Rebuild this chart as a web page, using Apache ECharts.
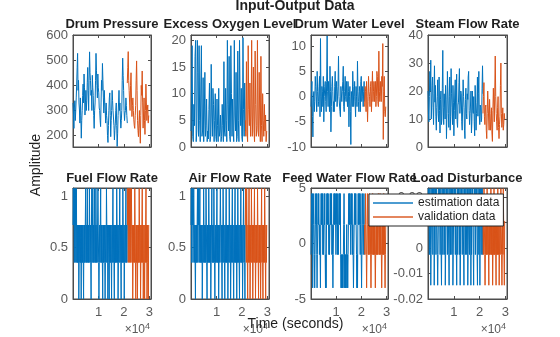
<!DOCTYPE html>
<html><head><meta charset="utf-8">
<script src="https://cdn.jsdelivr.net/npm/echarts@6/dist/echarts.min.js"></script>
<style>html,body{margin:0;padding:0;background:#fff}#c{width:560px;height:337px}</style>
</head><body><div id="c"></div>
<script>
// ---------------- data ----------------
const mainTitle = 'Input-Output Data';
const panelTitles = ['Drum Pressure','Excess Oxygen Level','Drum Water Level','Steam Flow Rate',
                     'Fuel Flow Rate','Air Flow Rate','Feed Water Flow Rate','Load Disturbance'];
const legendNames = ['estimation data','validation data'];
const xLabel = 'Time (seconds)';
const yLabel = 'Amplitude';
const xTicks = [10000, 20000, 30000];
const xMin = 0, xMax = 30600;
const estStart = 0, estEnd = 21300, valEnd = 29700;

const drumPressureEst = [330,290,229,310,339,260,300,350,405,470,527,380,420,330,302,250,350,280,190,260,
  300,360,405,330,445,390,282,330,380,300,340,410,471,380,300,420,533,450,420,360,
  380,300,440,390,360,280,229,300,330,420,527,460,400,350,445,390,370,310,300,260,
  236,330,420,380,487,420,350,290,380,330,300,250,330,280,260,200,173,240,300,350,
  370,280,196,260,300,380,340,300,300,240,183,220,250,300,330,240,157,210,280,330,
  380,300,330,270,230,260,300,420,508,440,380,300,260,290,300,350,320,280,250];
const drumPressureVal = [409,470,534,420,380,330,300,400,450,350,276,320,350,300,263,240,229,280,320,420,
  497,380,260,220,196,250,300,230,170,280,400,360,457,330,230,290,350,260,205,300,
  405,330,260,300,322,250,280];

const oxygenEst = [3,12,19,2,1,8,4,17,20,1,3,20,14,2,19,5,1,12,19,2,3,13,1,6,14,2,4,9,1,3,
  1.5,7,12,1,2,15.5,6,2,11,8,1,5,10,2,1,9,4,1,11,2,3,6,1,2,8,4,1,16,3,2,
  11,5,1,20,8,3,17,2,1,19,10,2,9,3,1,20,6,3,14,1,2,18,5,1,20,9,4,11,2,1,
  20.5,7,2,12,3];
const oxygenVal = [5,2,16,3,1,19,7,4,12,2,6,20,2,6,15,3,1,18,8,2,4,20,3,2,14,6,1,17,4,1,
  10,5,2,8,3,6,1,3];

const waterLevelEst = [-2,1,3,-4,-8,0,1,-3,-1,4,2,0,-3,5,1,-2,-1,2,4,-4,11.5,0,-3,2,1,-2,4,-5,0,2,
  3,-1,-3,3,12,1,-2,3,0,-3,6,1,-7,-2,2,4,1,-3,-1,-3,2,5,-1,1,3,-2,-2,2,8,0,
  0,-3,-4,2,2,-1,1,3,6,-2,-3,1,4,0,-1,3,0,-2,3,1,-6,0,2,-3,-9.5,1,1,-2,5,2,
  -2,0,3,-1,-4,2,0,-2,7,1,-1,-3,2,1,-3,3,4,-1,0,2,-2,1,3,-1];
const waterLevelVal = [-2,2,1,-3,3,0,-5,-1,4,1,0,-2,2,3,-3,1,5,-1,1,3,-1,2,3,-2,0,5,4,-1,-2,9,
  1,-1,3,0,-1,4,2,10.5,-8.5,1,4,-3,-4,-2];

const steamEst = [20,12,9,18,27,20,31,10,15,22,25,14,8,19,29,16,22,11,6,14,18,24,12,9,25,13,5,17,20,8,
  10,21,34.5,14,8,19,15,10,22,17,3,12,27,20,12,7,18,25,6,11,28,19,14,8,22,16,4,13,20,24,
  10,16,26,9,7,15,16,23,28,12,12,20,19,9,6,15,24,18,14,6,3,17,21,12,10,19,17,25,27,13,
  8,12,15,20,5,9,20,13,12,18,9,4,22,15,6,12,16,25,11,19,27,11,8,15,14,9,10,21,29,19];
const steamVal = [12,18,23,11,8,14,15,6,3,12,20,15,10,6,17,12,6,9,14,5,2,13,21,15,9,20,32.5,18,12,9,
  6,14,18,7,3,8,11,22,30,12,7,10,14,6,8,12,10];

const fuelLevels = [0, 0.355, 0.72, 1.075];
const fuelEstCodes = [2,3,2,3,1,3,2,3,1,2, 3,1,2,1,2,1,2,0,1,2, 1,2,1,2,0,2,1,2,1,2, 1,0,2,1,2,1,2,3,1,2,
  1,2,3,1,2,1,2,1,3,2, 1,2,1,0,2,3,1,2,3,1, 2,1,2,3,1,2,1,3,2,1, 2,1,2,3,2,1,0,1,2,1,
  2,3,1,2,1,2,1,0,2,1, 2,1,2,1,0,1,2,1,3,2, 1,2,0,1,2,1,0,2,1,2, 1,2,1,0,2,1,2,3,1,2,
  1,0,2,1,2,1,2,1,3,2, 1,2,0,1,2,1,2,3,1,2, 1,0,2,1,2,1,3,2,1,2, 0,1,2,1,2,3,1,2,1,2];
const fuelValCodes = [3,2,3,1,3,2,3,1,2,3, 1,2,3,2,1,2,0,1,2,1, 2,1,3,2,1,0,2,1,2,1, 0,2,1,2,1,3,2,1,2,0,
  1,2,1,2,3,1,2,0,1,2, 1,0,2,1,2,3,1,2,0,1, 2,1,0,2];

const airLevels = [0, 0.355, 0.72, 1.075];
const airEstCodes = [2,3,1,3,2,3,1,2,3,2, 1,2,1,0,2,1,2,1,2,3, 1,3,2,3,1,2,3,1,2,1, 2,1,2,0,1,2,1,3,2,1,
  2,1,2,1,3,2,1,0,2,1, 2,1,3,2,1,2,1,2,0,1, 2,3,1,2,1,2,1,3,2,1, 0,2,1,2,1,2,3,1,2,1,
  2,0,1,2,1,2,3,2,1,2, 1,0,2,1,3,2,1,2,1,0, 2,1,2,3,1,2,1,2,0,1, 2,1,3,2,1,2,0,1,2,1,
  2,3,1,2,1,0,2,1,2,3, 1,2,1,2,0,2,1,3,2,1, 2,1,0,2,1,2,3,1,2,1, 2,0,1,2,3,1,2,1,0,2];
const airValCodes = [2,3,2,1,3,2,1,0,2,1, 2,3,1,2,0,1,2,1,3,2, 1,2,0,1,2,1,2,3,1,2, 0,1,2,1,2,1,3,2,1,0,
  2,1,2,1,2,0,1,2,3,1, 2,1,0,2,1,2,1,3,2,1, 0,2,1,2];

const feedLevels = [-4.0, -1.0, 1.7, 4.5];
const feedEstCodes = [1,2,3,2,3,0,1,2,3,2, 1,0,1,2,3,2,3,1,0,1, 2,3,2,3,2,1,2,1,0,2, 3,2,3,2,3,1,2,1,2,3,
  2,3,1,0,1,0,2,3,2,3, 2,3,2,1,2,1,2,3,2,3, 2,3,1,2,1,0,1,2,3,2, 3,2,3,2,1,2,3,2,3,1,
  2,1,2,3,2,3,2,3,1,0, 1,0,1,0,1,0,1,2,3,2, 0,1,0,1,0,1,2,0,1,0, 1,2,3,2,3,2,3,2,1,2,
  3,2,3,1,2,1,0,1,2,3, 2,3,2,3,2,1,0,1,0,2, 3,2,3,2,3,2,1,2,3,1, 0,1,2,3,2,1,2,3,2,1];
const feedValCodes = [2,1,2,3,2,1,0,1,2,3, 2,1,2,1,3,2,1,2,1,0, 1,2,1,2,3,1,2,1,2,1, 2,1,0,1,2,1,2,1,2,1,
  2,3,2,1,2,1,3,2,1,2, 1,0,1,2,1,2,1,3,1,2, 1,0,1,2];

const loadLevels = [-0.0146, -0.0026, 0.0106, 0.0232];
const loadEstCodes = [2,3,2,3,1,2,3,2,0,1, 2,3,2,3,1,3,2,3,0,2, 3,2,3,1,2,3,2,1,0,1, 2,3,2,3,2,1,2,3,1,0,
  2,3,2,1,3,2,3,1,2,3, 0,1,2,3,2,3,1,2,3,2, 1,0,2,3,2,1,3,2,3,1, 2,3,0,1,2,3,2,3,2,1,
  3,2,1,0,2,3,1,2,3,2, 3,1,2,0,1,3,2,3,2,1, 2,3,2,1,0,3,2,3,1,2, 3,2,1,2,3,0,1,2,3,2,
  1,3,2,3,0,2,1,3,2,3, 2,1,0,2,3,2,3,1,2,3, 2,3,1,0,2,3,2,1,2,3, 0,2,3,2,1,3,2,3,1,2];
const loadValCodes = [2,1,2,3,2,1,0,1,2,1, 2,1,3,2,1,2,1,0,2,1, 2,1,2,3,1,2,1,2,0,1, 2,1,3,1,2,1,2,1,0,2,
  1,2,1,3,2,1,2,0,1,2, 1,2,3,2,1,0,1,2,1,3, 2,1,0,2];

const yRanges = [[155,600],[0,21],[-10,12.2],[0,40],[0,1.08],[0,1.08],[-5,5],[-0.02,0.0235]];
const yTicks = [[200,300,400,500,600],[0,5,10,15,20],[-10,-5,0,5,10],[0,10,20,30,40],
                [0,0.5,1],[0,0.5,1],[-5,0,5],[-0.02,-0.01,0,0.01,0.02]];

// ---------------- build ----------------
const blue = '#0072BD', orange = '#D95319';
const axisCol = '#4d4d4d', labelCol = '#5a5a5a', textCol = '#1f1f1f';
const FONT = 'Liberation Sans, Arial, sans-serif';

function toPairs(vals, t0, t1){ return vals.map((v,i)=>[t0 + i*(t1-t0)/(vals.length-1), v]); }
const fromCodes = (codes, lv) => codes.map(c => lv[c]);

const panels = [
  {est: drumPressureEst, val: drumPressureVal, step:false},
  {est: oxygenEst, val: oxygenVal, step:false},
  {est: waterLevelEst, val: waterLevelVal, step:false},
  {est: steamEst, val: steamVal, step:false},
  {est: fromCodes(fuelEstCodes, fuelLevels), val: fromCodes(fuelValCodes, fuelLevels), step:true},
  {est: fromCodes(airEstCodes, airLevels), val: fromCodes(airValCodes, airLevels), step:true},
  {est: fromCodes(feedEstCodes, feedLevels), val: fromCodes(feedValCodes, feedLevels), step:true},
  {est: fromCodes(loadEstCodes, loadLevels), val: fromCodes(loadValCodes, loadLevels), step:true}
];

const cols = [[73,78],[191,78],[311,77],[428,79]];
const rows = [[35,112],[188,111]];

const grid=[], xAxis=[], yAxis=[], series=[], graphic=[];
panels.forEach((p,i)=>{
  const r = Math.floor(i/4), c = i%4;
  const [L,W] = cols[c], [T,H] = rows[r];
  grid.push({left:L, top:T, width:W, height:H, show:true, borderColor:axisCol, borderWidth:1, containLabel:false});
  const tickStyle = {show:true, inside:true, length:3, lineStyle:{color:axisCol, width:1}};
  xAxis.push({type:'value', gridIndex:i, min:xMin, max:xMax, position:'bottom',
    axisLine:{show:true, onZero:false, lineStyle:{color:axisCol}},
    axisTick:Object.assign({customValues:xTicks}, tickStyle),
    axisLabel:{show:r===1, customValues:xTicks, formatter:v=>String(v/10000), margin:7,
      fontSize:13, fontFamily:FONT, color:labelCol},
    splitLine:{show:false}});
  xAxis.push({type:'value', gridIndex:i, min:xMin, max:xMax, position:'top',
    axisLine:{show:true, onZero:false, lineStyle:{color:axisCol}},
    axisTick:Object.assign({customValues:xTicks}, tickStyle),
    axisLabel:{show:false}, splitLine:{show:false}});
  const [ymin,ymax] = yRanges[i];
  yAxis.push({type:'value', gridIndex:i, min:ymin, max:ymax, position:'left',
    axisLine:{show:true, onZero:false, lineStyle:{color:axisCol}},
    axisTick:Object.assign({customValues:yTicks[i]}, tickStyle),
    axisLabel:{show:true, customValues:yTicks[i], formatter:v=>String(v), margin:5,
      fontSize:13, fontFamily:FONT, color:labelCol},
    splitLine:{show:false}});
  yAxis.push({type:'value', gridIndex:i, min:ymin, max:ymax, position:'right',
    axisLine:{show:true, onZero:false, lineStyle:{color:axisCol}},
    axisTick:Object.assign({customValues:yTicks[i]}, tickStyle),
    axisLabel:{show:false}, splitLine:{show:false}});
  const common = {type:'line', xAxisIndex:2*i, yAxisIndex:2*i, showSymbol:false, symbol:'none',
    animation:false, step:p.step?'end':false, clip:true};
  series.push(Object.assign({name:legendNames[0], data:toPairs(p.est, estStart, estEnd),
    lineStyle:{color:blue, width:1}, itemStyle:{color:blue}}, common));
  series.push(Object.assign({name:legendNames[1], data:toPairs(p.val, estEnd, valEnd),
    lineStyle:{color:orange, width:1}, itemStyle:{color:orange}}, common));
  graphic.push({type:'text', x:L+W/2, y:r===0?24:178, z:10,
    style:{text:panelTitles[i], align:'center', verticalAlign:'middle',
      font:'bold 13px '+FONT, fill:textCol}});
  if (r===1){
    graphic.push({type:'text', x:L+W-1, y:330, z:10,
      style:{text:'×10{s|4}', align:'right', verticalAlign:'middle',
        font:'12px '+FONT, fill:labelCol,
        rich:{s:{fontSize:9, fontFamily:FONT, fill:labelCol, verticalAlign:'top', padding:[0,0,6,0]}}}});
  }
});
graphic.push({type:'text', x:295, y:6, z:10,
  style:{text:mainTitle, align:'center', verticalAlign:'middle', font:'bold 14px '+FONT, fill:textCol}});
graphic.push({type:'text', x:36, y:165, rotation:Math.PI/2, z:10,
  style:{text:yLabel, align:'center', verticalAlign:'middle', font:'14px '+FONT, fill:textCol}});
graphic.push({type:'text', x:295.5, y:324, z:10,
  style:{text:xLabel, align:'center', verticalAlign:'middle', font:'14px '+FONT, fill:textCol}});

const chart = echarts.init(document.getElementById('c'), null, {renderer:'canvas'});
chart.setOption({
  animation:false,
  backgroundColor:'#fff',
  grid, xAxis, yAxis, series, graphic,
  legend:{data:legendNames, orient:'vertical', left:369, top:194, z:20,
    backgroundColor:'#fff', borderColor:'#262626', borderWidth:1, padding:[2,4,2,4],
    itemGap:0, itemWidth:40, itemHeight:2, icon:'rect', itemStyle:{opacity:0.7},
    textStyle:{fontSize:12, fontFamily:FONT, color:textCol, lineHeight:14}, selectedMode:false}
});
</script>
</body></html>
